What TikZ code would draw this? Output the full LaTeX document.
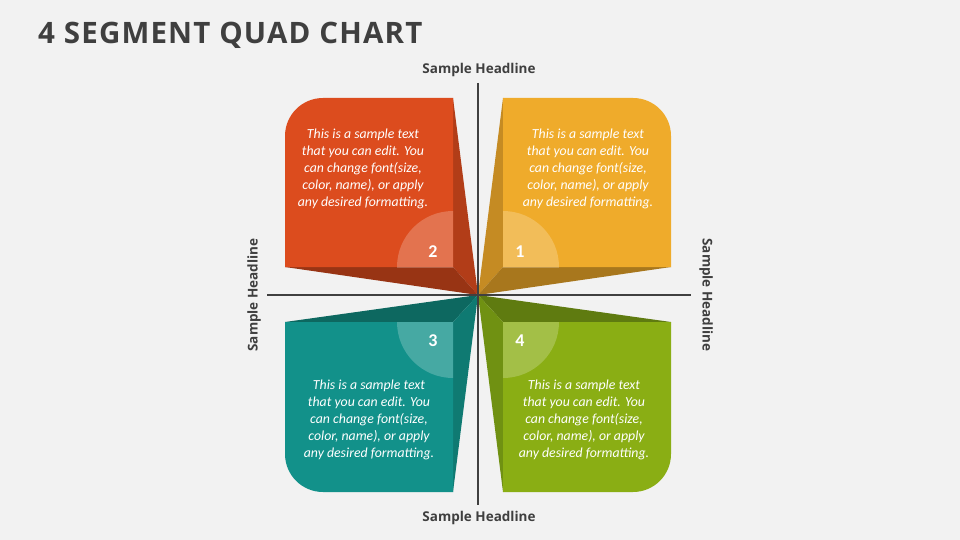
\documentclass[tikz,border=0pt]{standalone}
\usepackage{fontspec}
\setmainfont{Carlito}
\newfontfamily\headfont{Open Sans}
\newfontfamily\titlefont[LetterSpace=4]{Open Sans}
\definecolor{bg}{HTML}{F2F2F2}
\definecolor{ink}{HTML}{3F3F3F}
\definecolor{axisc}{HTML}{404040}
\definecolor{orF}{HTML}{DC4C1E}
\definecolor{orS}{HTML}{B23D18}
\definecolor{orB}{HTML}{983414}
\definecolor{yeF}{HTML}{EFAB2B}
\definecolor{yeS}{HTML}{C58B23}
\definecolor{yeB}{HTML}{A8771D}
\definecolor{teF}{HTML}{12918A}
\definecolor{teS}{HTML}{0F7A72}
\definecolor{teB}{HTML}{0D6860}
\definecolor{grF}{HTML}{8AAE14}
\definecolor{grS}{HTML}{709112}
\definecolor{grB}{HTML}{5F7B10}
\tikzset{
  body/.style={text=white, align=center, font=\itshape\fontsize{13.8}{16.9}\selectfont},
  num/.style={text=white, font=\bfseries\fontsize{18}{20}\selectfont},
  headline/.style={text=ink, font=\headfont\bfseries\fontsize{13.5}{16}\selectfont},
  axisline/.style={draw=axisc, line width=2pt},
  glow/.style={fill=white, fill opacity=0.22},
}
\begin{document}
\begin{tikzpicture}[x=1pt,y=-1pt]
\useasboundingbox (0,0) rectangle (960,540);
\fill[bg] (0,0) rectangle (960,540);

\coordinate (C) at (478,295);

% Quadrant 2 (top-left, orange)
\fill[orS] (453,98) -- (C) -- (453,267) -- cycle;
\fill[orB] (285,267) -- (453,267) -- (C) -- cycle;
\fill[orF] (453,98) -- (323,98) .. controls (302,98) and (285,115) .. (285,136) -- (285,267) -- (453,267) -- cycle;
\begin{scope}
\clip (453,98) -- (285,98) -- (285,267) -- (453,267) -- cycle;
\fill[glow] (453,267) circle[radius=56];
\end{scope}

% Quadrant 1 (top-right, yellow)
\fill[yeS] (503,98) -- (C) -- (503,267) -- cycle;
\fill[yeB] (503,267) -- (671,267) -- (C) -- cycle;
\fill[yeF] (503,98) -- (633,98) .. controls (654,98) and (671,115) .. (671,136) -- (671,267) -- (503,267) -- cycle;
\begin{scope}
\clip (503,98) -- (671,98) -- (671,267) -- (503,267) -- cycle;
\fill[glow] (503,267) circle[radius=56];
\end{scope}

% Quadrant 3 (bottom-left, teal)
\fill[teB] (285,322) -- (453,322) -- (C) -- cycle;
\fill[teS] (453,322) -- (C) -- (453,492) -- cycle;
\fill[teF] (453,492) -- (323,492) .. controls (302,492) and (285,475) .. (285,454) -- (285,322) -- (453,322) -- cycle;
\begin{scope}
\clip (453,322) -- (285,322) -- (285,492) -- (453,492) -- cycle;
\fill[glow] (453,322) circle[radius=56];
\end{scope}

% Quadrant 4 (bottom-right, green)
\fill[grB] (503,322) -- (671,322) -- (C) -- cycle;
\fill[grS] (503,322) -- (C) -- (503,492) -- cycle;
\fill[grF] (503,492) -- (633,492) .. controls (654,492) and (671,475) .. (671,454) -- (671,322) -- (503,322) -- cycle;
\begin{scope}
\clip (503,322) -- (671,322) -- (671,492) -- (503,492) -- cycle;
\fill[glow] (503,322) circle[radius=56];
\end{scope}

% Numbers
\node[num] (n2) at (433,252) {2};
\node[num] (n1) at (520,252) {1};
\node[num] (n3) at (433,341) {3};
\node[num] (n4) at (520,341) {4};

% Body texts
\node[body] (t2) at (363,169) {This is a sample text\\that you can edit. You\\can change font(size,\\color, name), or apply\\any desired formatting.};
\node[body] (t1) at (588,169) {This is a sample text\\that you can edit. You\\can change font(size,\\color, name), or apply\\any desired formatting.};
\node[body] (t3) at (369,420) {This is a sample text\\that you can edit. You\\can change font(size,\\color, name), or apply\\any desired formatting.};
\node[body] (t4) at (584,420) {This is a sample text\\that you can edit. You\\can change font(size,\\color, name), or apply\\any desired formatting.};

% Axes
\coordinate (axT) at (478,83);
\coordinate (axB) at (478,505);
\coordinate (axL) at (267,295);
\coordinate (axR) at (691,295);
\draw[axisline] (axT) -- (axB);
\draw[axisline] (axL) -- (axR);

% Headlines
\node[headline] (hT) at (479,70) {Sample Headline};
\node[headline] (hB) at (479,518) {Sample Headline};
\node[headline, rotate=90] (hL) at (254,295) {Sample Headline};
\node[headline, rotate=-90] (hR) at (706,295) {Sample Headline};

% Title
\node[anchor=base west, inner sep=0pt, text=ink, font=\titlefont\bfseries\fontsize{29.5}{32}\selectfont] (title) at (38,43.3) {4 SEGMENT QUAD CHART};
\end{tikzpicture}
\end{document}
